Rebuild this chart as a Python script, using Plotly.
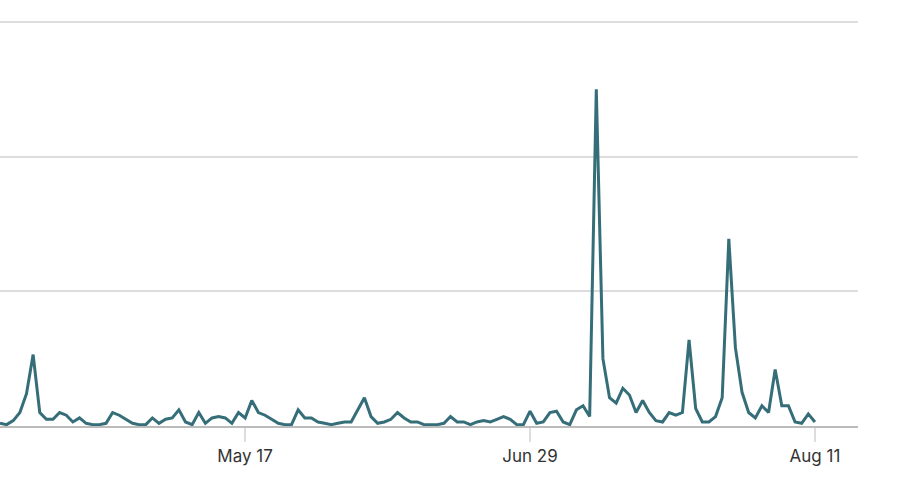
import plotly.graph_objects as go
import pandas as pd

start_date = "2023-04-10"
values = [2,1,4,10,24,53,10,5,5,10,8,3,6,2,1,1,2,10,8,5,2,1,1,6,2,5,6,12,3,1,10,2,6,7,6,2,10,6,19,10,8,5,2,1,1,12,
          6,6,3,2,1,2,3,3,12,21,7,2,3,5,10,6,3,3,1,1,1,2,7,3,3,1,3,4,3,5,7,5,1,1,11,2,3,10,11,3,
          1,12,15,7,250,50,21,17,28,23,10,19,10,4,3,10,8,10,64,13,3,3,7,21,139,58,25,10,6,15,10,42,15,15,3,2,9,3]
dates = pd.date_range(start_date, periods=len(values), freq="D")
tick_vals = ["2023-05-17", "2023-06-29", "2023-08-11"]
tick_text = ["May 17", "Jun 29", "Aug 11"]

fig = go.Figure(go.Scatter(x=dates, y=values, mode="lines",
                           line=dict(color="#356E78", width=3), cliponaxis=False,
                           hoverinfo="skip"))
fig.update_layout(
    width=911, height=489, margin=dict(l=0, r=53, t=5, b=63),
    plot_bgcolor="white", paper_bgcolor="white", showlegend=False,
    font=dict(family="Inter, Roboto, sans-serif", size=17, color="#333333"),
)
fig.update_xaxes(range=["2023-04-10", "2023-08-17 12:00"], tickvals=tick_vals, ticktext=tick_text,
                 showgrid=False, showline=True, linecolor="#bbbbbb", linewidth=1.5,
                 ticks="outside", ticklen=14, tickcolor="#dddddd", tickwidth=1.5, zeroline=False)
fig.update_yaxes(range=[0, 312.6], tickvals=[0, 100, 200, 300], showticklabels=False,
                 showgrid=True, gridcolor="#dddddd", gridwidth=1.5, zeroline=False)
fig.write_html("out.html", config={"displayModeBar": False},
               post_script="document.body.style.margin='0';document.body.style.overflow='hidden';")
